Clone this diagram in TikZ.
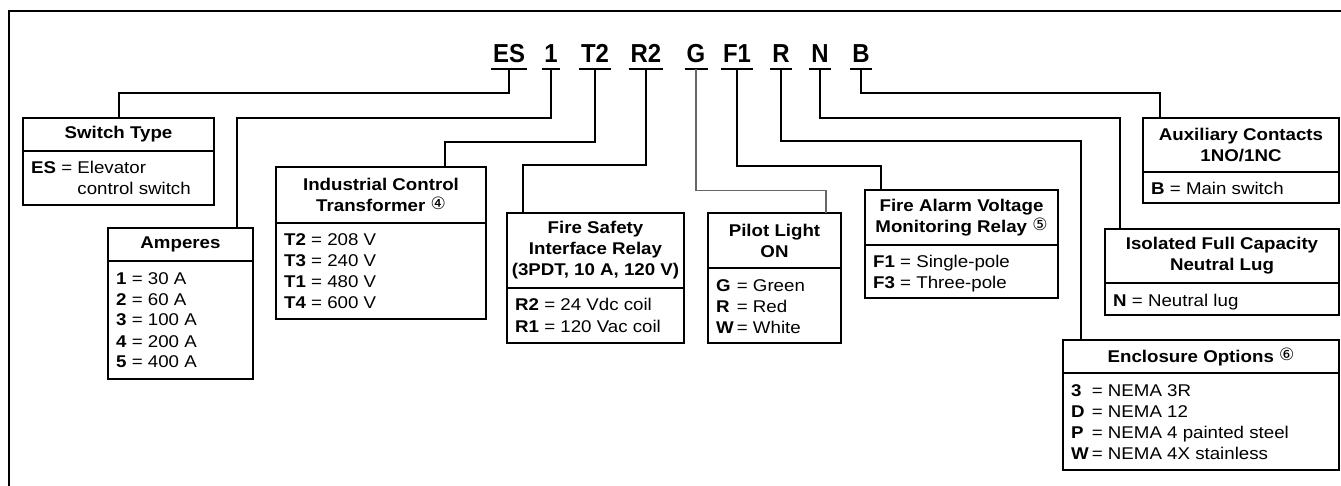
\documentclass[tikz,border=0pt]{standalone}
\usepackage{fontspec}
\setmainfont{Liberation Sans}[FakeStretch=1.1]
\newfontfamily\codefont{Liberation Sans}[FakeStretch=0.92]
\newfontfamily\symfont{DejaVu Sans}
\usetikzlibrary{calc}
\newcommand{\circnum}[1]{\raisebox{2pt}{\symfont\mdseries\fontsize{17}{17}\selectfont #1}}
\tikzset{
  box/.style={draw, line width=2pt, rectangle, inner sep=0pt, outer sep=0pt, anchor=north west},
  divline/.style={line width=2pt},
  conn/.style={line width=2pt},
  thinconn/.style={line width=1.2pt, draw=black!60},
  hdr/.style={font=\bfseries\fontsize{17}{21}\selectfont, align=center, inner sep=0pt},
  bodytxt/.style={font=\fontsize{17}{21}\selectfont, anchor=base west, inner sep=0pt},
  code/.style={font=\codefont\bfseries\fontsize{26}{26}\selectfont, anchor=base, inner xsep=2pt, inner ysep=6pt, text depth=0pt},
  uline/.style={line width=2pt},
  frameline/.style={line width=2.5pt}
}
\newcommand{\infobox}[8]{%
  \node[box, minimum width=#4, minimum height=#5] (#1) at (#2,#3) {};
  \draw[divline] ($(#1.north west)+(0,#6)$) -- ($(#1.north east)+(0,#6)$);
  \node[hdr] (#1-h) at ($(#1.north)+(0,#6/2)$) {#7};
  \node[bodytxt] (#1-b) at ($(#1.north west)+(8,#6+23)$) {#8};
}
\begin{document}
\begin{tikzpicture}[x=1pt,y=-1pt]
\useasboundingbox (0,0) rectangle (1341,486);
\draw[frameline] (9,487) -- (9,11) -- (1342,11);

% code letters
\foreach \n/\t/\x in {es/ES/509, c1/1/551, t2/T2/595, r2/R2/646, g/G/696, f1/F1/737, r/R/781, n/N/820, b/B/861}{
  \node[code] (\n) at (\x,63) {\t};
  \draw[uline] (\n.south west) -- (\n.south east);
}

% boxes
\infobox{sw}{23}{118}{191}{87}{33}{Switch Type}{\begin{tabular}[t]{@{}l@{}}\textbf{ES} = Elevator\\\hphantom{\textbf{ES} = }control switch\end{tabular}}
\infobox{amp}{108}{228}{145}{151}{33}{Amperes}{\begin{tabular}[t]{@{}l@{}}\textbf{1} = 30 A\\\textbf{2} = 60 A\\\textbf{3} = 100 A\\\textbf{4} = 200 A\\\textbf{5} = 400 A\end{tabular}}
\infobox{ict}{276}{167}{210}{152}{56}{Industrial Control\\Transformer \circnum{④}}{\begin{tabular}[t]{@{}l@{}}\textbf{T2} = 208 V\\\textbf{T3} = 240 V\\\textbf{T1} = 480 V\\\textbf{T4} = 600 V\end{tabular}}
\infobox{fsi}{507}{213}{177}{130}{75}{Fire Safety\\Interface Relay\\(3PDT, 10 A, 120 V)}{\begin{tabular}[t]{@{}l@{}}\textbf{R2} = 24 Vdc coil\\\textbf{R1} = 120 Vac coil\end{tabular}}
\infobox{pil}{708}{213}{133}{130}{55}{Pilot Light\\ON}{\begin{tabular}[t]{@{}l@{\hspace{3pt}}l@{}}\textbf{G}&= Green\\\textbf{R}&= Red\\\textbf{W}&= White\end{tabular}}
\infobox{fav}{865}{190}{193}{108}{55}{Fire Alarm Voltage\\Monitoring Relay \circnum{⑤}}{\begin{tabular}[t]{@{}l@{}}\textbf{F1} = Single-pole\\\textbf{F3} = Three-pole\end{tabular}}
\infobox{aux}{1143}{118}{196}{85}{54}{Auxiliary Contacts\\1NO/1NC}{\begin{tabular}[t]{@{}l@{}}\textbf{B} = Main switch\end{tabular}}
\infobox{iso}{1105}{229}{234}{86}{54}{Isolated Full Capacity\\Neutral Lug}{\begin{tabular}[t]{@{}l@{}}\textbf{N} = Neutral lug\end{tabular}}
\infobox{enc}{1063}{340}{276}{130}{33}{Enclosure Options \circnum{⑥}}{\begin{tabular}[t]{@{}l@{\hspace{3pt}}l@{}}\textbf{3}&= NEMA 3R\\\textbf{D}&= NEMA 12\\\textbf{P}&= NEMA 4 painted steel\\\textbf{W}&= NEMA 4X stainless\end{tabular}}

% entry points on box tops
\coordinate (amp-in) at ($(amp.north west)+(129,0)$);
\coordinate (ict-in) at ($(ict.north west)+(169,0)$);
\coordinate (fsi-in) at ($(fsi.north west)+(16,0)$);
\coordinate (pil-in) at ($(pil.north west)+(118,0)$);
\coordinate (fav-in) at ($(fav.north west)+(16,0)$);
\coordinate (enc-in) at ($(enc.north west)+(18,0)$);
\coordinate (iso-in) at ($(iso.north west)+(15,0)$);
\coordinate (aux-in) at ($(aux.north west)+(17,0)$);

% connectors
\draw[conn] (es.south) -- ++(0,24) -| (sw.north);
\draw[conn] (c1.south) -- ++(0,49) -| (amp-in);
\draw[conn] (t2.south) -- ++(0,73) -| (ict-in);
\draw[conn] (r2.south) -- ++(0,96) -| (fsi-in);
\draw[thinconn] (g.south) -- ++(0,121) -| (pil-in);
\draw[conn] (f1.south) -- ++(0,97) -| (fav-in);
\draw[conn] (r.south) -- ++(0,72) -| (enc-in);
\draw[conn] (n.south) -- ++(0,49) -| (iso-in);
\draw[conn] (b.south) -- ++(0,24) -| (aux-in);
\end{tikzpicture}
\end{document}
